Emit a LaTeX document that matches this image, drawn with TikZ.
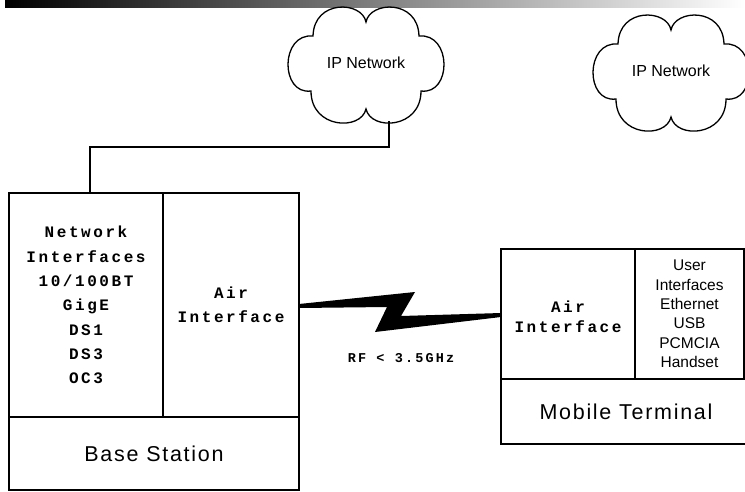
\documentclass[tikz,border=0pt]{standalone}
\usepackage{fontspec}
\setmainfont{Liberation Sans}
\newfontfamily\typefont[LetterSpace=16]{Liberation Mono}
\newfontfamily\labelfont[LetterSpace=8]{Liberation Sans}
\usetikzlibrary{positioning}

\tikzset{
	cell/.style={draw, line width=1.6pt, inner sep=0pt, outer sep=0pt, align=center},
	wire/.style={line width=1.6pt},
	typetext/.style={align=center, font=\typefont\bfseries\fontsize{16}{24.3}\selectfont},
	labeltext/.style={font=\labelfont\fontsize{21.5}{25}\selectfont},
	ipcloud/.pic={
		\draw[line width=1.3pt] (0,-41) .. controls (4,-62) and (52,-64) .. (53,-27)
			.. controls (86,-30) and (86,32) .. (55,28)
			.. controls (55,66) and (5,68) .. (0,46)
			.. controls (-5,68) and (-55,66) .. (-55,28)
			.. controls (-86,32) and (-86,-30) .. (-53,-27)
			.. controls (-52,-64) and (-4,-62) .. (0,-41) -- cycle;
		\node[font=\fontsize{16}{19}\selectfont] (-name) {IP Network};
		\coordinate (-foot) at (23,58);
	}
}

\begin{document}
\begin{tikzpicture}[x=1pt, y=-1pt]
		\useasboundingbox (0,0) rectangle (745,491);
		\clip (0,0) rectangle (745,491);
		\shade[left color=black, right color=white] (5,0) rectangle (745,7);

		% clouds
		\pic (cloudA) at (366,63) {ipcloud};
		\pic (cloudB) at (671,71) {ipcloud};

		% base station
		\node[cell, typetext, minimum width=154pt, minimum height=224pt] (netif) at (86,305) {Network\\Interfaces\\10/100BT\\GigE\\DS1\\DS3\\OC3};
		\node[cell, typetext, minimum width=136pt, minimum height=224pt, right=0pt of netif] (bsair) {Air\\Interface};
		\node[cell, labeltext, minimum width=290pt, minimum height=73pt, below right=0pt of netif.south west] (bslabel) {Base Station};

		% mobile terminal
		\node[cell, minimum width=134pt, minimum height=130pt] (msair) at (568,314) {};
		\node[typetext, font=\typefont\bfseries\fontsize{16}{20}\selectfont, yshift=-2.5pt] (msairtext) at (msair.center) {Air\\Interface};
		\node[cell, font=\fontsize{15.5}{19.4}\selectfont, minimum width=109pt, minimum height=130pt, right=0pt of msair] (userif) {User\\Interfaces\\Ethernet\\USB\\PCMCIA\\Handset};
		\node[cell, labeltext, minimum width=250pt, minimum height=65pt, below right=0pt of msair.south west] (mslabel) {Mobile Terminal};

		% links
		\draw[wire] (cloudA-foot) -- ++(0,26) -| ([xshift=4pt]netif.north);
		\fill ([yshift=1pt]bsair.east) -- (415,292) -- (401,316) -- ([yshift=1pt]msair.west) -- ([yshift=-3pt]msair.west) -- (375,332) -- (387,307) -- ([yshift=-3pt]bsair.east) -- cycle;
		\node[font=\typefont\bfseries\fontsize{13.5}{15}\selectfont] (rf) at (401,358) {RF < 3.5GHz};
	\end{tikzpicture}
\end{document}
